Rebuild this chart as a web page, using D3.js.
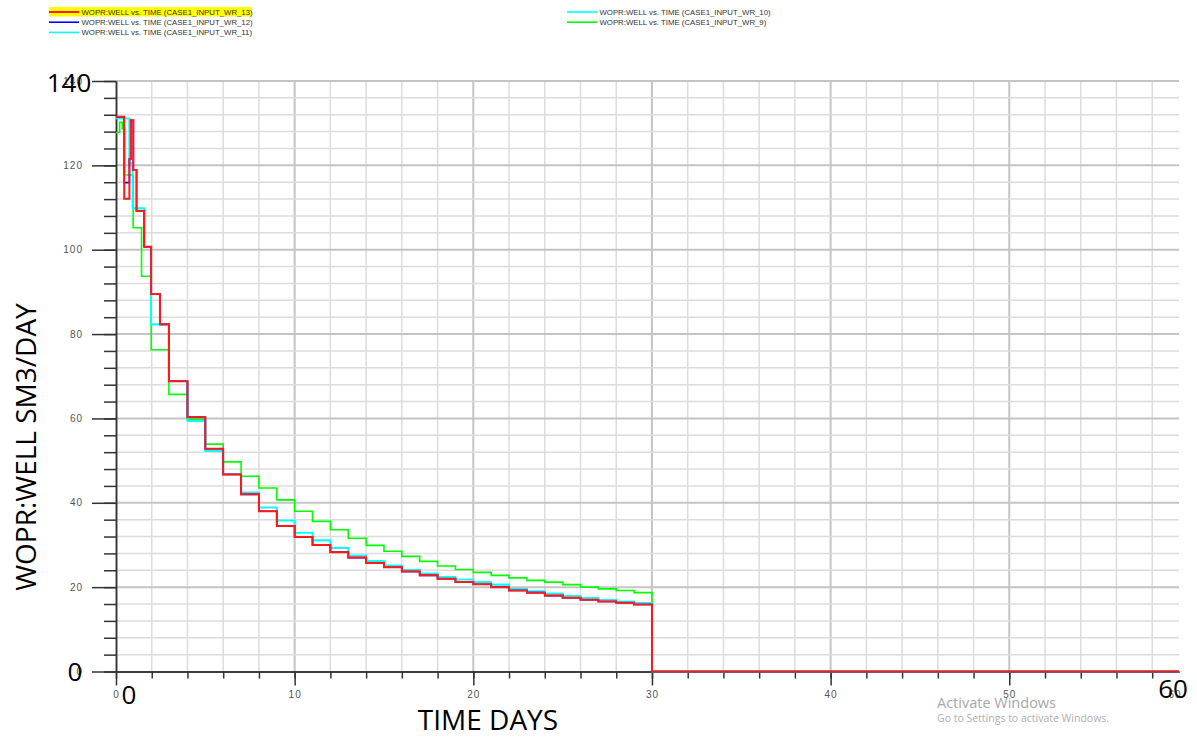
<!DOCTYPE html>
<html>
<head>
<meta charset="utf-8">
<script src="https://cdn.jsdelivr.net/npm/d3@7/dist/d3.min.js"></script>
<style>
  html, body { margin: 0; padding: 0; background: #fff; }
  svg { display: block; }
</style>
</head>
<body>
<svg id="chart" width="1197" height="737"></svg>
<script>
// Oil production rate per well (SM3/DAY) against time (days), five cases.
// Each case is a step series: a rate holds from its start time until the next one.
const timeEnd = 59.5;

const wr13Times = [0, 0.46, 0.75, 0.83, 0.97, 1.15, 1.58, 1.97, 2.46, 2.96,
  4, 5, 6, 7, 8, 9, 10, 11, 12, 13, 14, 15, 16, 17, 18, 19, 20, 21, 22, 23, 24, 25, 26, 27, 28, 29, 30];
const wr13Rates = [131.5, 112.1, 121.5, 130.7, 118.9, 109.2, 100.7, 89.5, 82.3, 68.8,
  60.3, 52.8, 46.7, 42.0, 38.0, 34.5, 31.9, 30.0, 28.3, 27.0, 25.7, 24.7, 23.7, 22.8, 22.0, 21.2,
  20.7, 20.0, 19.2, 18.7, 18.0, 17.5, 17.0, 16.6, 16.3, 15.9, 0];

const wr12Times = [0, 0.46, 0.75, 0.83, 0.97, 1.15, 1.58, 1.97, 2.46, 2.96,
  4, 5, 6, 7, 8, 9, 10, 11, 12, 13, 14, 15, 16, 17, 18, 19, 20, 21, 22, 23, 24, 25, 26, 27, 28, 29, 30];
const wr12Rates = [131.5, 115.9, 121.5, 130.7, 118.9, 109.2, 100.7, 89.5, 82.3, 68.8,
  60.3, 52.8, 46.7, 42.0, 38.0, 34.5, 31.9, 30.0, 28.3, 27.0, 25.7, 24.7, 23.7, 22.8, 22.0, 21.2,
  20.7, 20.0, 19.2, 18.7, 18.0, 17.5, 17.0, 16.6, 16.3, 15.9, 0];

const wr11Times = [0, 0.75, 0.93, 1.58, 1.97, 2.96,
  4, 5, 6, 7, 8, 9, 10, 11, 12, 13, 14, 15, 16, 17, 18, 19, 20, 21, 22, 23, 24, 25, 26, 27, 28, 29, 30];
const wr11Rates = [131.1, 120.5, 109.8, 100.7, 82.3, 68.8,
  59.4, 52.3, 46.9, 42.4, 38.9, 35.8, 32.9, 31.1, 29.3, 27.5, 26.2, 25.1, 24.1, 23.2, 22.4, 21.8,
  21.2, 20.6, 19.6, 19.0, 18.5, 17.9, 17.4, 17.0, 16.6, 16.3, 0];

const wr10Times = [0, 0.75, 0.93, 1.58, 1.97, 2.96,
  4, 5, 6, 7, 8, 9, 10, 11, 12, 13, 14, 15, 16, 17, 18, 19, 20, 21, 22, 23, 24, 25, 26, 27, 28, 29, 30];
const wr10Rates = [131.1, 120.5, 109.8, 100.7, 82.3, 68.8,
  59.4, 52.3, 46.9, 42.4, 38.9, 35.8, 32.9, 31.1, 29.3, 27.5, 26.2, 25.1, 24.1, 23.2, 22.4, 21.8,
  21.2, 20.6, 19.6, 19.0, 18.5, 17.9, 17.4, 17.0, 16.6, 16.3, 0];

const wr9Times = [0, 0.2, 0.35, 0.48, 0.96, 1.43, 1.97, 2.96,
  4, 5, 6, 7, 8, 9, 10, 11, 12, 13, 14, 15, 16, 17, 18, 19, 20, 21, 22, 23, 24, 25, 26, 27, 28, 29, 30];
const wr9Rates = [127.8, 130.2, 128.7, 117.7, 105.2, 93.7, 76.3, 65.7,
  59.8, 53.9, 49.7, 46.3, 43.5, 40.7, 38.0, 35.6, 33.6, 31.6, 29.9, 28.5, 27.3, 26.1, 25.0, 24.2,
  23.5, 22.8, 22.2, 21.6, 21.2, 20.6, 20.0, 19.6, 19.2, 18.7, 0];

const seriesNames = ["WOPR:WELL vs. TIME (CASE1_INPUT_WR_13)", "WOPR:WELL vs. TIME (CASE1_INPUT_WR_12)",
  "WOPR:WELL vs. TIME (CASE1_INPUT_WR_11)", "WOPR:WELL vs. TIME (CASE1_INPUT_WR_10)",
  "WOPR:WELL vs. TIME (CASE1_INPUT_WR_9)"];

const xMajorTicks = [0, 10, 20, 30, 40, 50];
const xTickLabels = ["0", "10", "20", "30", "40", "50"];
const yMajorTicks = [0, 20, 40, 60, 80, 100, 120, 140];
const yTickLabels = ["0", "20", "40", "60", "80", "100", "120", "140"];
const xMinorStep = 2;
const yMinorStep = 4;

const svg = d3.select("#chart");
const x = d3.scaleLinear().domain([0, timeEnd]).range([116, 1179]);
const y = d3.scaleLinear().domain([0, 140]).range([671.5, 81]);

const xMinor = d3.range(0, timeEnd, xMinorStep);
const yMinor = d3.range(0, 140 + 0.001, yMinorStep);

// grid
const grid = svg.append("g");
grid.selectAll("line.vx").data(xMinor.filter(d => d > 0)).join("line")
  .attr("x1", d => x(d)).attr("x2", d => x(d))
  .attr("y1", y(140)).attr("y2", y(0))
  .attr("stroke", d => d % 10 === 0 ? "#c4c4c4" : "#dcdcdc")
  .attr("stroke-width", d => d % 10 === 0 ? 2 : 1.5);
grid.selectAll("line.hy").data(yMinor.filter(d => d > 0)).join("line")
  .attr("x1", x(0)).attr("x2", x(timeEnd))
  .attr("y1", d => y(d)).attr("y2", d => y(d))
  .attr("stroke", d => d % 20 === 0 ? "#c4c4c4" : "#dcdcdc")
  .attr("stroke-width", d => d % 20 === 0 ? 2 : 1.5);

// axes
const axisColor = "#333";
function styleAxis(g) {
  g.select(".domain").attr("stroke", axisColor).attr("stroke-width", 1.5);
  g.selectAll(".tick line").attr("stroke", axisColor).attr("stroke-width", 1.5);
}
svg.append("g").attr("transform", `translate(${x(0)},0)`)
  .call(d3.axisLeft(y).tickValues(yMinor).tickSize(12).tickFormat("").tickSizeOuter(0))
  .call(styleAxis);
const yAx = svg.append("g").attr("transform", `translate(${x(0)},0)`)
  .call(d3.axisLeft(y).tickValues(yMajorTicks).tickSize(24).tickPadding(9)
    .tickFormat((d, i) => yTickLabels[i]).tickSizeOuter(0))
  .call(styleAxis);
yAx.selectAll(".tick text").attr("font-family", "'Liberation Sans', Arial, sans-serif")
  .attr("font-size", 10).attr("letter-spacing", "1px").attr("fill", "#555");

svg.append("g").attr("transform", `translate(0,${y(0)})`)
  .call(d3.axisBottom(x).tickValues(xMinor).tickSize(7).tickFormat("").tickSizeOuter(0))
  .call(styleAxis);
const xAx = svg.append("g").attr("transform", `translate(0,${y(0)})`)
  .call(d3.axisBottom(x).tickValues(xMajorTicks).tickSize(14).tickPadding(5)
    .tickFormat((d, i) => xTickLabels[i]).tickSizeOuter(0))
  .call(styleAxis);
xAx.selectAll(".tick text").attr("font-family", "'Liberation Sans', Arial, sans-serif")
  .attr("font-size", 10).attr("letter-spacing", "1px").attr("fill", "#555");
// end-of-axis label
xAx.append("text").attr("x", x(timeEnd) - 4).attr("y", 19).attr("dy", "0.71em")
  .attr("text-anchor", "middle").attr("font-family", "'Liberation Sans', Arial, sans-serif")
  .attr("font-size", 10).attr("letter-spacing", "1px").attr("fill", "#555").text("60");

// step lines
const line = d3.line().x(d => x(d[0])).y(d => y(d[1])).curve(d3.curveStepAfter);
function pts(times, rates) {
  const p = times.map((t, i) => [t, rates[i]]);
  p.push([timeEnd, rates[rates.length - 1]]);
  return p;
}
const series = [
  { t: wr9Times, r: wr9Rates, color: "#00ff00", w: 1.6 },
  { t: wr10Times, r: wr10Rates, color: "#00ffff", w: 1.6 },
  { t: wr11Times, r: wr11Rates, color: "#00ffff", w: 1.6 },
  { t: wr12Times, r: wr12Rates, color: "#0000ff", w: 1.6 },
  { t: wr13Times, r: wr13Rates, color: "#ff1a1a", w: 2 }
];
svg.append("g").selectAll("path").data(series).join("path")
  .attr("d", s => line(pts(s.t, s.r)))
  .attr("fill", "none").attr("stroke", s => s.color).attr("stroke-width", s => s.w)
  .attr("stroke-linejoin", "miter");

// legend
const legendItems = [
  { name: seriesNames[0], color: "#ff1a1a", col: 0, row: 0, hi: true },
  { name: seriesNames[1], color: "#0000ff", col: 0, row: 1 },
  { name: seriesNames[2], color: "#00ffff", col: 0, row: 2 },
  { name: seriesNames[3], color: "#00ffff", col: 1, row: 0 },
  { name: seriesNames[4], color: "#00ff00", col: 1, row: 1 }
];
const colX = [49, 567];
const leg = svg.append("g");
legendItems.forEach(it => {
  const lx = colX[it.col], ly = 12 + it.row * 10.2;
  if (it.hi) leg.append("rect").attr("x", lx).attr("y", ly - 5).attr("width", 203).attr("height", 9.5).attr("fill", "#ffff00");
  leg.append("line").attr("x1", lx).attr("x2", lx + 30).attr("y1", ly).attr("y2", ly)
    .attr("stroke", it.color).attr("stroke-width", it.hi ? 2 : 1.6);
  leg.append("text").attr("x", lx + 32.5).attr("y", ly + 2.8)
    .attr("font-family", "'Liberation Sans', Arial, sans-serif").attr("font-size", 7.8)
    .attr("fill", "#333").text(it.name);
});

// axis titles and large value labels
const big = "'Open Sans', 'Noto Sans', sans-serif";
svg.append("text").attr("x", 488).attr("y", 730).attr("text-anchor", "middle")
  .attr("font-family", big).attr("font-size", 28).attr("fill", "#000").text("TIME DAYS");
svg.append("text").attr("transform", "translate(36,447) rotate(-90)").attr("text-anchor", "middle")
  .attr("font-family", big).attr("font-size", 28).attr("fill", "#000").text("WOPR:WELL SM3/DAY");
svg.append("text").attr("x", 69).attr("y", 92).attr("text-anchor", "middle")
  .attr("font-family", big).attr("font-size", 26).attr("fill", "#000").text("140");
svg.append("text").attr("x", 75).attr("y", 681).attr("text-anchor", "middle")
  .attr("font-family", big).attr("font-size", 26).attr("fill", "#000").text("0");
svg.append("text").attr("x", 129).attr("y", 704).attr("text-anchor", "middle")
  .attr("font-family", big).attr("font-size", 26).attr("fill", "#000").text("0");
svg.append("text").attr("x", 1173).attr("y", 698).attr("text-anchor", "middle")
  .attr("font-family", big).attr("font-size", 26).attr("fill", "#000").text("60");

// system notice text in the lower right
svg.append("text").attr("x", 937).attr("y", 708).attr("font-family", big).attr("font-size", 14.5)
  .attr("fill", "#a8a8a8").text("Activate Windows");
svg.append("text").attr("x", 937).attr("y", 722).attr("font-family", big).attr("font-size", 10.5)
  .attr("fill", "#b0b0b0").text("Go to Settings to activate Windows.");
</script>
</body>
</html>
